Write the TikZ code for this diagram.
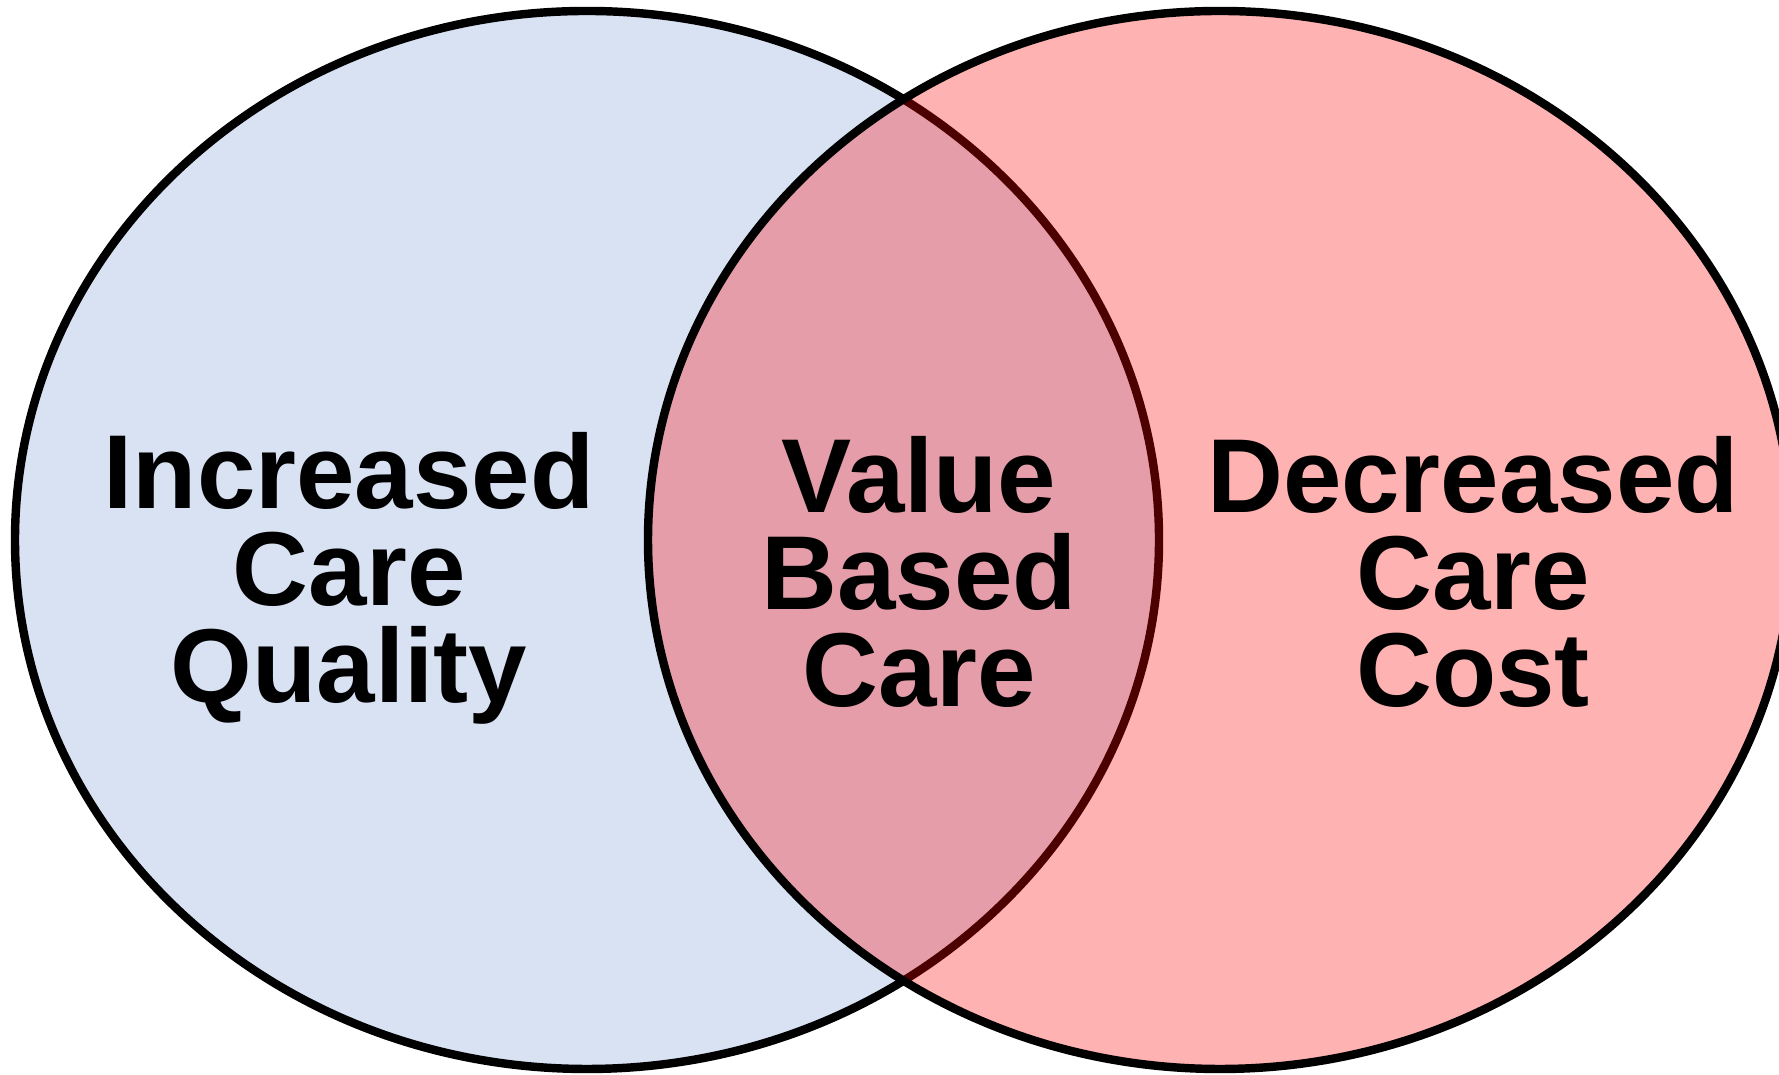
\documentclass[tikz,border=0pt]{standalone}
\usepackage{fontspec}
\setmainfont{Liberation Sans}
\definecolor{qualityblue}{RGB}{217,226,243}
\begin{document}
\begin{tikzpicture}[
    venn/.style={line width=2.4pt},
    lbl/.style={font=\bfseries\fontsize{29.9}{27.6}\selectfont,
                align=center, inner sep=0pt, anchor=base}]
    \useasboundingbox (0,0) rectangle (17.79,10.75);
    \clip (0,0) rectangle (17.79,10.75);
    % quality
    \draw[venn, fill=qualityblue] (5.87,5.35) ellipse [x radius=5.72, y radius=5.29];
    % cost (transparent fill, so the overlap comes out darker)
    \draw[venn, fill=red, fill opacity=0.3] (12.20,5.35) ellipse [x radius=5.72, y radius=5.29];
    % labels (base = last line)
    \node[lbl] (quality) at (3.49,3.72) {Increased\\Care\\Quality};
    \node[lbl] (value) at (9.19,3.68) {Value\\Based\\Care};
    \node[lbl] (cost) at (14.73,3.68) {Decreased\\Care\\Cost};
\end{tikzpicture}
\end{document}
